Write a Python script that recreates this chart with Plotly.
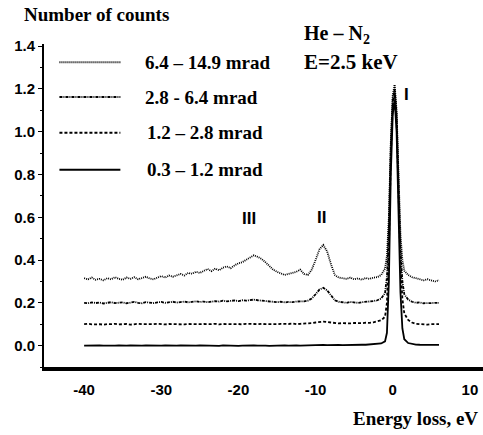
import plotly.graph_objects as go

# energy loss grid, eV
energy = [
    -40.0, -39.5, -39.0, -38.5, -38.0, -37.5, -37.0, -36.5, -36.0, -35.5,
    -35.0, -34.5, -34.0, -33.5, -33.0, -32.5, -32.0, -31.5, -31.0, -30.5,
    -30.0, -29.5, -29.0, -28.5, -28.0, -27.5, -27.0, -26.5, -26.0, -25.5,
    -25.0, -24.5, -24.0, -23.5, -23.0, -22.5, -22.0, -21.5, -21.0, -20.5,
    -20.0, -19.5, -19.0, -18.5, -18.0, -17.5, -17.0, -16.5, -16.0, -15.5,
    -15.0, -14.5, -14.0, -13.5, -13.0, -12.5, -12.0, -11.5, -11.0, -10.5,
    -10.0, -9.5, -9.0, -8.5, -8.0, -7.5, -7.0, -6.5, -6.0, -5.5,
    -5.0, -4.5, -4.0, -3.5, -3.0, -2.5,
    -2.0, -1.5, -1.0, -0.75, -0.5, -0.25, 0.0, 0.25, 0.5, 0.75, 1.0, 1.25,
    1.5, 2.0, 2.5, 3.0, 3.5, 4.0, 4.5, 5.0, 5.5, 6.0,
]

# 6.4 - 14.9 mrad (offset +0.3)
counts_64_149 = [
    0.315, 0.31, 0.318, 0.308, 0.312, 0.305, 0.315, 0.31, 0.32, 0.312,
    0.308, 0.318, 0.312, 0.32, 0.31, 0.316, 0.322, 0.314, 0.31, 0.318, 0.325,
    0.318, 0.328, 0.322, 0.33, 0.335, 0.328, 0.34, 0.336, 0.345, 0.34, 0.35, 0.358,
    0.348, 0.36, 0.352, 0.365, 0.37, 0.362, 0.375, 0.385, 0.39, 0.40, 0.41, 0.422,
    0.415, 0.405, 0.39, 0.372, 0.355, 0.345, 0.338, 0.33, 0.335, 0.34, 0.345, 0.355,
    0.335, 0.33, 0.355, 0.40, 0.45, 0.47, 0.44, 0.38, 0.33, 0.318,
    0.315, 0.312, 0.318, 0.31, 0.314, 0.308, 0.316, 0.312, 0.318,
    0.32, 0.33, 0.36, 0.42, 0.6, 0.95, 1.17, 1.22, 1.1, 0.8, 0.52, 0.4,
    0.35, 0.33, 0.32, 0.315, 0.31, 0.305, 0.31, 0.305, 0.3, 0.305,
]

# 2.8 - 6.4 mrad (offset +0.2)
counts_28_64 = [
    0.20, 0.198, 0.202, 0.199, 0.201, 0.197, 0.2, 0.203, 0.199, 0.2,
    0.202, 0.198, 0.201, 0.204, 0.2, 0.198, 0.203, 0.201, 0.199, 0.202, 0.204,
    0.2, 0.203, 0.205, 0.201, 0.204, 0.206, 0.202, 0.205, 0.207, 0.204, 0.206, 0.203,
    0.205, 0.208, 0.206, 0.21, 0.207, 0.209, 0.211, 0.208, 0.212, 0.21, 0.213, 0.215,
    0.212, 0.21, 0.208, 0.205, 0.206, 0.203, 0.205, 0.202, 0.204, 0.203, 0.206, 0.205,
    0.207, 0.21, 0.22, 0.24, 0.262, 0.27, 0.258, 0.235, 0.212, 0.205,
    0.203, 0.2, 0.204, 0.201, 0.2, 0.203, 0.205, 0.204, 0.208,
    0.212, 0.22, 0.245, 0.32, 0.55, 0.93, 1.15, 1.2, 1.08, 0.75, 0.45, 0.3,
    0.24, 0.215, 0.205, 0.2, 0.202, 0.198, 0.2, 0.199, 0.2, 0.2,
]

# 1.2 - 2.8 mrad (offset +0.1)
counts_12_28 = [
    0.1, 0.102, 0.099, 0.101, 0.1, 0.098, 0.101, 0.1, 0.102, 0.099,
    0.1, 0.101, 0.098, 0.1, 0.102, 0.1, 0.099, 0.101, 0.1, 0.102, 0.1,
    0.099, 0.101, 0.1, 0.102, 0.1, 0.099, 0.101, 0.1, 0.102, 0.1, 0.101, 0.1,
    0.1, 0.102, 0.099, 0.101, 0.1, 0.102, 0.1, 0.101, 0.099, 0.102, 0.1, 0.101,
    0.1, 0.102, 0.1, 0.099, 0.101, 0.1, 0.102, 0.1, 0.101, 0.103, 0.1, 0.102,
    0.103, 0.102, 0.105, 0.108, 0.11, 0.112, 0.11, 0.107, 0.105, 0.104,
    0.105, 0.103, 0.104, 0.106, 0.104, 0.105, 0.107, 0.106, 0.109,
    0.112, 0.118, 0.135, 0.2, 0.45, 0.88, 1.12, 1.18, 1.05, 0.7, 0.38, 0.22,
    0.15, 0.12, 0.108, 0.102, 0.1, 0.1, 0.098, 0.1, 0.1, 0.1,
]

# 0.3 - 1.2 mrad (no offset)
counts_03_12 = [
    0.0, 0.001, -0.001, 0.0, 0.001, 0.0, -0.001, 0.001, 0.0, 0.001,
    -0.001, 0.0, 0.001, 0.0, -0.001, 0.0, 0.001, 0.0, -0.001, 0.001, 0.0,
    0.001, 0.0, -0.001, 0.0, 0.001, 0.0, 0.001, -0.001, 0.0, 0.001, 0.0, 0.0,
    0.001, 0.0, -0.001, 0.001, 0.0, 0.001, 0.0, -0.001, 0.0, 0.001, 0.0, 0.001,
    0.0, 0.001, 0.0, -0.001, 0.0, 0.001, 0.0, 0.001, 0.0, 0.002, 0.001, 0.0,
    0.001, 0.002, 0.001, 0.002, 0.003, 0.003, 0.002, 0.003, 0.002, 0.003,
    0.002, 0.003, 0.003, 0.004, 0.003, 0.004, 0.004, 0.005, 0.005,
    0.006, 0.01, 0.02, 0.06, 0.3, 0.8, 1.08, 1.15, 1.0, 0.6, 0.25, 0.08,
    0.03, 0.012, 0.008, 0.005, 0.004, 0.003, 0.003, 0.002, 0.003, 0.003,
]

labels = ["6.4 – 14.9 mrad", "2.8 - 6.4 mrad", "1.2 – 2.8 mrad", "0.3 – 1.2 mrad"]
series = [counts_64_149, counts_28_64, counts_12_28, counts_03_12]
dashes = ["1px,1px", "3px,1px,1px,1px", "3px,2px", "solid"]

x_ticks = [-40, -30, -20, -10, 0, 10]
y_ticks = [0.0, 0.2, 0.4, 0.6, 0.8, 1.0, 1.2, 1.4]

serif = "Liberation Serif"
sans = "Liberation Sans"

fig = go.Figure()
for lab, ys, d in zip(labels, series, dashes):
    fig.add_trace(go.Scatter(x=energy, y=ys, mode="lines", name=lab,
                             line=dict(color="black", width=1.8, dash=d),
                             showlegend=False))

# hand-made legend, like the original
leg_y = [1.325, 1.162, 0.995, 0.822]
for i, (lab, d) in enumerate(zip(labels, dashes)):
    fig.add_shape(type="line", x0=-43.2, x1=-35.3, y0=leg_y[i], y1=leg_y[i],
                  line=dict(color="black", width=2, dash=d))
    fig.add_annotation(x=-32.4 + 0.3 * (i > 1), y=leg_y[i], text=f"<b>{lab}</b>",
                       showarrow=False, xanchor="left", yanchor="middle",
                       font=dict(family=serif, size=19, color="black"))

# peak labels
fig.add_annotation(x=1.8, y=1.175, text="<b>I</b>", showarrow=False,
                   font=dict(family=sans, size=17, color="black"))
fig.add_annotation(x=-9.2, y=0.6, text="<b>II</b>", showarrow=False,
                   font=dict(family=sans, size=17, color="black"))
fig.add_annotation(x=-18.6, y=0.595, text="<b>III</b>", showarrow=False,
                   font=dict(family=sans, size=17, color="black"))

# titles
fig.add_annotation(xref="paper", yref="paper", x=-0.05, y=1.09, text="<b>Number of counts</b>",
                   showarrow=False, xanchor="left", yanchor="middle",
                   font=dict(family=serif, size=19, color="black"))
fig.add_annotation(xref="paper", yref="paper", x=0.588, y=1.028, text="<b>He – N<sub>2</sub></b>",
                   showarrow=False, xanchor="left", yanchor="middle",
                   font=dict(family=serif, size=20, color="black"))
fig.add_annotation(xref="paper", yref="paper", x=0.588, y=0.944, text="<b>E=2.5 keV</b>",
                   showarrow=False, xanchor="left", yanchor="middle",
                   font=dict(family=serif, size=21, color="black"))
fig.add_annotation(xref="paper", yref="paper", x=0.993, y=-0.158, text="<b>Energy loss, eV</b>",
                   showarrow=False, xanchor="right", yanchor="middle",
                   font=dict(family=serif, size=19, color="black"))

fig.update_layout(
    width=483, height=435,
    margin=dict(l=44, r=0, t=44, b=68),
    paper_bgcolor="white", plot_bgcolor="white",
    xaxis=dict(range=[-45.2, 11.7], tickvals=x_ticks, ticktext=[f"<b>{v}</b>" for v in x_ticks],
               showgrid=False, zeroline=False, showline=True, linecolor="black", linewidth=4,
               ticks="", ticklabelstandoff=6, tickfont=dict(family=sans, size=15, color="black")),
    yaxis=dict(range=[-0.1, 1.41], tickvals=y_ticks, ticktext=[f"<b>{v:.1f}</b>" for v in y_ticks],
               showgrid=False, zeroline=False, showline=True, linecolor="black", linewidth=2,
               ticks="outside", ticklen=4, tickcolor="black",
               minor=dict(dtick=0.1, ticks="outside", ticklen=2, tickcolor="black"),
               tickfont=dict(family=sans, size=15, color="black")),
)

# drop the default body margin so the 483x435 figure fills the window exactly
fig.write_html("out.html", config={"displayModeBar": False},
               post_script="document.body.style.margin='0';document.body.style.overflow='hidden';")
